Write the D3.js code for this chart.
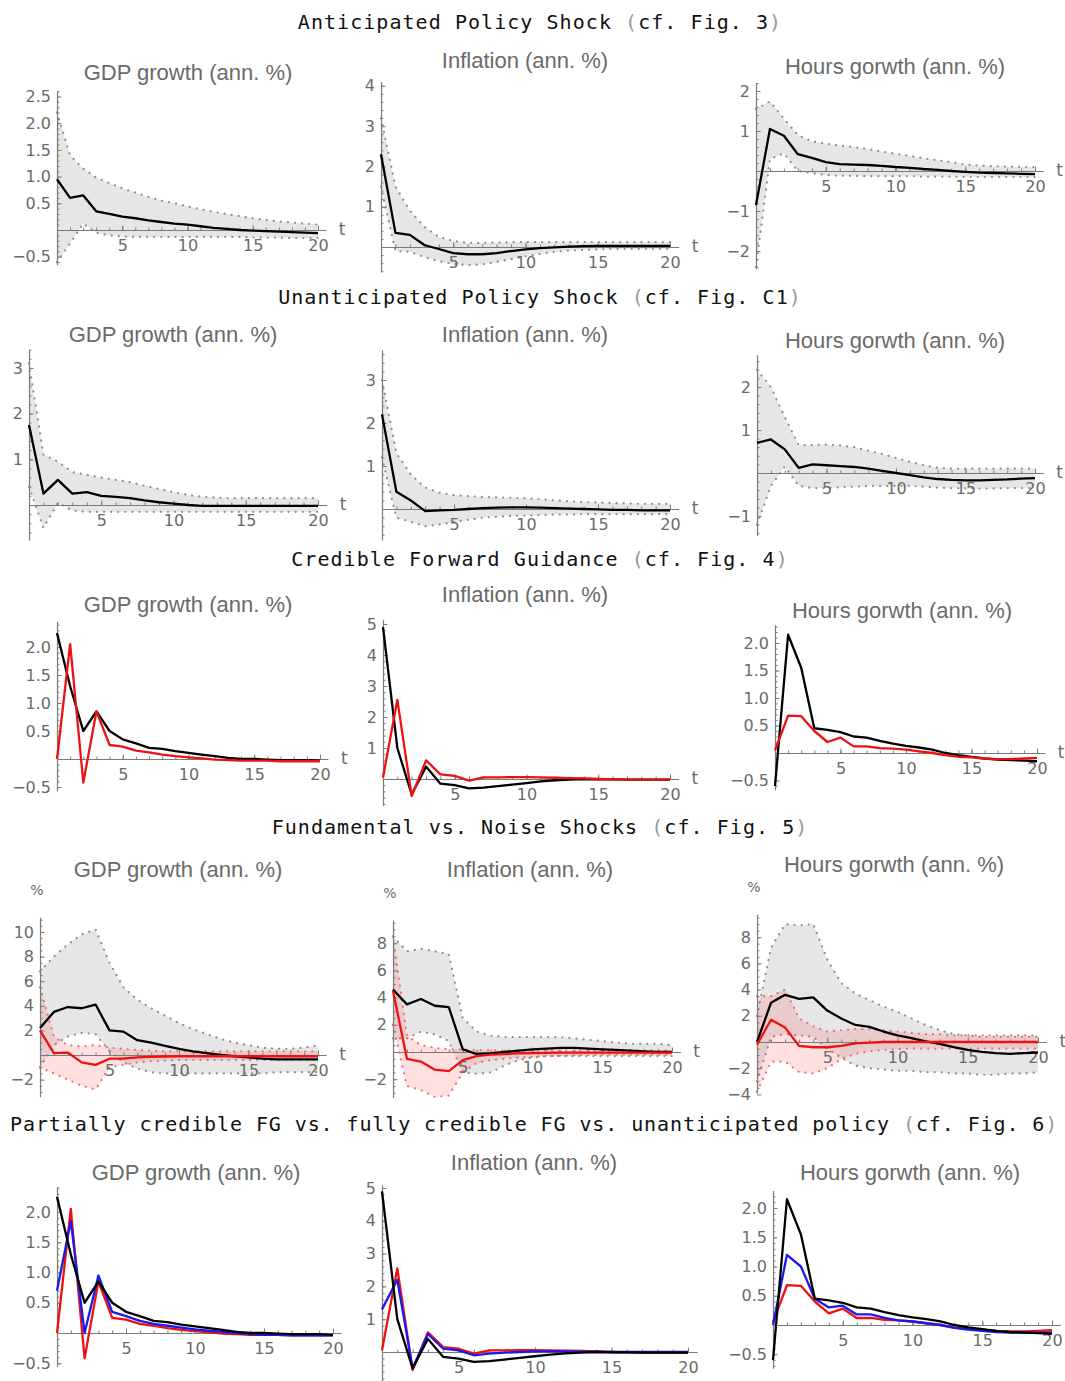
<!DOCTYPE html>
<html>
<head>
<meta charset="utf-8">
<script src="https://cdn.jsdelivr.net/npm/d3@7"></script>
<style>
  body { margin: 0; background: #fff; }
  .rowTitle { font-family: "DejaVu Sans Mono", monospace; font-size: 20px; letter-spacing: 1.05px; fill: #111; }
  .paren { fill: #999; }
  .panelTitle { font-family: "Liberation Sans", Arial, sans-serif; font-size: 22px; fill: #6a6a6a; }
  .tick text, .axisLabel { font-family: "DejaVu Sans", sans-serif; font-size: 16px; fill: #6a6a6a; }
</style>
</head>
<body>
<script>
// ---- horizon (quarters after shock) ----
var horizon = d3.range(21);

// ---- Anticipated policy shock (row 1) ----
var antGdp   = [0.95,0.6,0.65,0.35,0.3,0.25,0.22,0.18,0.15,0.12,0.1,0.07,0.04,0.02,0.0,-0.01,-0.02,-0.03,-0.04,-0.05,-0.06];
var antGdpHi = [2.2,1.4,1.15,0.98,0.88,0.78,0.7,0.62,0.55,0.5,0.44,0.39,0.34,0.3,0.26,0.22,0.19,0.16,0.14,0.12,0.1];
var antGdpLo = [-0.6,-0.25,0.12,-0.05,-0.1,-0.12,-0.13,-0.13,-0.13,-0.13,-0.13,-0.13,-0.13,-0.13,-0.13,-0.14,-0.14,-0.14,-0.15,-0.15,-0.15];
var antInf   = [2.3,0.35,0.3,0.05,-0.05,-0.15,-0.18,-0.18,-0.15,-0.1,-0.06,-0.03,-0.01,0.01,0.02,0.03,0.03,0.03,0.03,0.03,0.03];
var antInfHi = [3.2,1.5,0.9,0.5,0.25,0.15,0.1,0.1,0.11,0.12,0.12,0.12,0.12,0.12,0.12,0.12,0.12,0.12,0.12,0.12,0.12];
var antInfLo = [1.5,-0.1,-0.12,-0.25,-0.35,-0.42,-0.45,-0.43,-0.37,-0.3,-0.23,-0.17,-0.12,-0.09,-0.07,-0.06,-0.05,-0.05,-0.05,-0.05,-0.05];
var antHrs   = [-0.85,1.05,0.88,0.42,0.33,0.22,0.17,0.16,0.15,0.13,0.1,0.08,0.05,0.03,0.0,-0.02,-0.04,-0.05,-0.06,-0.07,-0.08];
var antHrsHi = [1.55,1.74,1.31,0.9,0.74,0.68,0.64,0.6,0.55,0.49,0.43,0.38,0.32,0.27,0.22,0.16,0.14,0.12,0.11,0.1,0.1];
var antHrsLo = [-2.4,0.3,0.44,0.0,-0.05,-0.1,-0.12,-0.12,-0.13,-0.13,-0.13,-0.13,-0.14,-0.14,-0.14,-0.15,-0.15,-0.15,-0.15,-0.15,-0.15];

// ---- Unanticipated policy shock (row 2) ----
var unaGdp   = [1.75,0.25,0.55,0.25,0.28,0.2,0.18,0.15,0.1,0.06,0.03,0.0,-0.02,-0.02,-0.02,-0.02,-0.02,-0.02,-0.02,-0.02,-0.02];
var unaGdpHi = [3.1,1.1,0.95,0.72,0.66,0.6,0.55,0.5,0.42,0.35,0.28,0.22,0.18,0.16,0.15,0.15,0.15,0.15,0.15,0.15,0.15];
var unaGdpLo = [0.4,-0.5,0.05,-0.12,-0.15,-0.15,-0.15,-0.15,-0.15,-0.15,-0.15,-0.15,-0.15,-0.15,-0.15,-0.15,-0.15,-0.15,-0.15,-0.15,-0.15];
var unaInf   = [2.2,0.4,0.2,-0.05,-0.03,-0.02,0.0,0.02,0.03,0.04,0.04,0.03,0.02,0.01,0.0,-0.01,-0.02,-0.02,-0.03,-0.03,-0.03];
var unaInfHi = [3.0,1.3,0.8,0.5,0.38,0.32,0.3,0.28,0.27,0.26,0.25,0.23,0.2,0.18,0.16,0.15,0.14,0.13,0.12,0.12,0.12];
var unaInfLo = [1.2,-0.2,-0.3,-0.4,-0.36,-0.3,-0.25,-0.2,-0.18,-0.16,-0.15,-0.14,-0.13,-0.13,-0.12,-0.12,-0.12,-0.12,-0.12,-0.12,-0.12];
var unaHrs   = [0.7,0.78,0.55,0.12,0.2,0.18,0.16,0.14,0.1,0.05,0.0,-0.05,-0.1,-0.14,-0.16,-0.17,-0.17,-0.16,-0.15,-0.13,-0.12];
var unaHrsHi = [2.4,2.0,1.3,0.65,0.65,0.66,0.64,0.6,0.52,0.44,0.35,0.26,0.18,0.12,0.1,0.1,0.1,0.1,0.1,0.1,0.1];
var unaHrsLo = [-1.2,-0.3,0.15,-0.3,-0.35,-0.35,-0.33,-0.32,-0.3,-0.3,-0.3,-0.3,-0.32,-0.34,-0.35,-0.36,-0.36,-0.36,-0.35,-0.35,-0.35];

// ---- Credible forward guidance (row 3) and comparison (row 5) ----
var fgGdpUnant = [2.25,1.3,0.5,0.85,0.5,0.35,0.28,0.2,0.18,0.14,0.11,0.08,0.05,0.02,0.0,0.0,-0.01,-0.02,-0.02,-0.02,-0.03];
var fgGdpFull  = [0.0,2.05,-0.42,0.85,0.25,0.22,0.15,0.12,0.08,0.05,0.03,0.01,-0.01,-0.02,-0.03,-0.03,-0.03,-0.04,-0.04,-0.04,-0.04];
var fgGdpPart  = [0.7,1.85,0.0,0.95,0.35,0.28,0.2,0.15,0.12,0.09,0.06,0.04,0.02,0.0,-0.02,-0.03,-0.03,-0.04,-0.04,-0.04,-0.04];
var fgInfUnant = [4.9,1.0,-0.5,0.4,-0.15,-0.2,-0.3,-0.28,-0.23,-0.18,-0.13,-0.08,-0.04,-0.02,0.0,-0.01,-0.01,-0.02,-0.02,-0.02,-0.02];
var fgInfFull  = [0.05,2.55,-0.55,0.6,0.15,0.1,-0.05,0.05,0.05,0.06,0.06,0.05,0.04,0.03,0.02,0.0,-0.01,-0.02,-0.02,-0.02,-0.02];
var fgInfPart  = [1.3,2.2,-0.5,0.55,0.1,0.05,-0.1,-0.05,-0.02,0.0,0.02,0.02,0.02,0.01,0.01,0.0,0.0,0.0,0.0,0.0,0.0];
var fgHrsUnant = [-0.6,2.15,1.55,0.45,0.42,0.38,0.3,0.28,0.22,0.17,0.13,0.1,0.06,0.0,-0.04,-0.07,-0.1,-0.12,-0.13,-0.14,-0.15];
var fgHrsFull  = [0.05,0.68,0.67,0.4,0.2,0.28,0.12,0.12,0.09,0.08,0.06,0.03,0.0,-0.04,-0.07,-0.08,-0.1,-0.11,-0.11,-0.1,-0.09];
var fgHrsPart  = [0.0,1.2,1.0,0.45,0.3,0.33,0.18,0.18,0.12,0.08,0.06,0.03,0.0,-0.05,-0.08,-0.1,-0.12,-0.13,-0.13,-0.13,-0.13];

// ---- Fundamental vs. noise shocks (row 4) ----
var funGdp   = [2.2,3.5,3.9,3.8,4.1,2.0,1.9,1.2,1.0,0.75,0.5,0.3,0.15,0.0,-0.1,-0.2,-0.3,-0.35,-0.35,-0.35,-0.35];
var funGdpHi = [6.8,8.0,9.0,9.8,10.2,7.5,5.5,4.5,3.8,3.2,2.6,2.1,1.7,1.3,1.0,0.8,0.6,0.5,0.5,0.6,0.8];
var funGdpLo = [-1.0,0.8,1.5,1.8,1.7,0.3,-0.6,-1.1,-1.4,-1.5,-1.5,-1.5,-1.5,-1.5,-1.5,-1.5,-1.5,-1.4,-1.4,-1.4,-1.4];
var noiGdp   = [2.0,0.15,0.2,-0.6,-0.8,-0.3,-0.3,-0.2,-0.15,-0.12,-0.1,-0.1,-0.1,-0.1,-0.1,-0.1,-0.1,-0.1,-0.1,-0.1,-0.1];
var noiGdpHi = [5.5,1.5,0.8,0.7,0.8,0.6,0.5,0.4,0.35,0.3,0.3,0.3,0.3,0.3,0.3,0.3,0.3,0.3,0.3,0.3,0.3];
var noiGdpLo = [-1.0,-1.5,-2.0,-2.5,-2.8,-1.0,-0.8,-0.6,-0.5,-0.45,-0.4,-0.4,-0.4,-0.4,-0.4,-0.4,-0.4,-0.4,-0.4,-0.4,-0.4];
var funInf   = [4.6,3.5,3.9,3.4,3.3,0.2,-0.15,-0.1,0.0,0.1,0.2,0.25,0.3,0.3,0.25,0.2,0.15,0.1,0.05,0.0,0.0];
var funInfHi = [8.5,7.4,7.6,7.4,7.2,2.5,1.5,1.2,1.1,1.1,1.1,1.1,1.1,1.0,0.9,0.8,0.7,0.6,0.6,0.6,0.5];
var funInfLo = [1.0,1.0,1.5,1.3,0.8,-1.5,-1.6,-1.5,-1.0,-0.6,-0.4,-0.3,-0.3,-0.3,-0.3,-0.3,-0.3,-0.3,-0.3,-0.3,-0.3];
var noiInf   = [4.5,-0.5,-0.7,-1.3,-1.4,-0.6,-0.3,-0.2,-0.15,-0.1,-0.08,-0.06,-0.05,-0.05,-0.05,-0.05,-0.05,-0.05,-0.05,-0.05,-0.05];
var noiInfHi = [8.5,1.2,0.5,0.3,0.2,0.2,0.15,0.12,0.1,0.1,0.1,0.1,0.1,0.1,0.1,0.1,0.1,0.1,0.1,0.1,0.1];
var noiInfLo = [2.0,-2.5,-2.8,-3.3,-3.2,-1.5,-0.8,-0.6,-0.5,-0.4,-0.35,-0.3,-0.28,-0.25,-0.22,-0.2,-0.2,-0.2,-0.2,-0.2,-0.2];
var funHrs   = [0.0,3.0,3.6,3.3,3.4,2.4,1.8,1.3,1.15,0.8,0.5,0.3,0.05,-0.15,-0.4,-0.6,-0.75,-0.85,-0.9,-0.85,-0.8];
var funHrsHi = [2.0,7.2,9.0,8.9,9.0,6.3,4.5,3.7,3.2,2.7,2.3,1.8,1.3,0.9,0.6,0.5,0.4,0.4,0.4,0.4,0.4];
var funHrsLo = [-3.0,0.4,0.6,0.5,0.4,-0.5,-1.2,-1.8,-2.0,-2.1,-2.2,-2.2,-2.3,-2.3,-2.4,-2.4,-2.5,-2.5,-2.4,-2.4,-2.3];
var noiHrs   = [-0.2,1.7,1.1,-0.3,-0.4,-0.4,-0.3,-0.1,-0.05,0.0,0.0,0.0,0.0,0.0,0.0,0.0,0.0,0.0,0.0,0.0,0.0];
var noiHrsHi = [3.5,3.5,4.0,1.8,1.2,0.8,0.9,1.0,1.0,0.9,0.8,0.7,0.6,0.6,0.5,0.5,0.5,0.5,0.5,0.5,0.5];
var noiHrsLo = [-3.8,-1.5,-1.5,-2.3,-2.4,-2.0,-1.3,-0.9,-0.7,-0.6,-0.55,-0.5,-0.5,-0.5,-0.5,-0.5,-0.5,-0.5,-0.5,-0.5,-0.5];

// ---- titles ----
var rowTitles = [
    ['Anticipated Policy Shock ', 'cf. Fig. 3'],
    ['Unanticipated Policy Shock ', 'cf. Fig. C1'],
    ['Credible Forward Guidance ', 'cf. Fig. 4'],
    ['Fundamental vs. Noise Shocks ', 'cf. Fig. 5'],
    ['Partially credible FG vs. fully credible FG vs. unanticipated policy ', 'cf. Fig. 6']
];
var gdpTitle = 'GDP growth (ann. %)';
var infTitle = 'Inflation (ann. %)';
var hrsTitle = 'Hours gorwth (ann. %)';

var BLACK = '#000', RED = '#ee1111', BLUE = '#1a1aee';
var GRAY_BAND = {fill: '#e6e6e6', dot: '#8f8f8f'};
var RED_BAND = {fill: 'rgba(255,60,60,0.16)', dot: '#f07070'};

// The last title is wider than the others; tighter spacing keeps it on the page.
var rowTitlePos = [
    {x: 540, y: 29, anchor: 'middle', spacing: 1.05},
    {x: 540, y: 304, anchor: 'middle', spacing: 1.05},
    {x: 540, y: 566, anchor: 'middle', spacing: 1.05},
    {x: 540, y: 834, anchor: 'middle', spacing: 1.05},
    {x: 10, y: 1131, anchor: 'start', spacing: 0.9}
];

// Panel layout: x0/x20 pixel of t=0 and t=20, zero = pixel of y=0, unit = px per unit.
var panels = [
    {title: gdpTitle, tx: 188, ty: 80, x0: 57, x20: 318, zero: 230, unit: 53.4, ymin: -0.65, ymax: 2.6,
     yt: [-0.5, 0.5, 1, 1.5, 2, 2.5], minor: 0.1, dec: 1, tLabel: true,
     bands: [{hi: antGdpHi, lo: antGdpLo, s: GRAY_BAND}], lines: [{v: antGdp, c: BLACK}]},
    {title: infTitle, tx: 525, ty: 68, x0: 381, x20: 670, zero: 247, unit: 40.3, ymin: -0.62, ymax: 4.1,
     yt: [1, 2, 3, 4], minor: 0.2, dec: 0, tLabel: true,
     bands: [{hi: antInfHi, lo: antInfLo, s: GRAY_BAND}], lines: [{v: antInf, c: BLACK}]},
    {title: hrsTitle, tx: 895, ty: 74, x0: 756, x20: 1035, zero: 171, unit: 40, ymin: -2.45, ymax: 2.2,
     yt: [-2, -1, 1, 2], minor: 0.2, dec: 0, tLabel: true,
     bands: [{hi: antHrsHi, lo: antHrsLo, s: GRAY_BAND}], lines: [{v: antHrs, c: BLACK}]},

    {title: gdpTitle, tx: 173, ty: 342, x0: 29, x20: 318, zero: 505, unit: 45.7, ymin: -0.77, ymax: 3.4,
     yt: [1, 2, 3], minor: 0.2, dec: 0, tLabel: true,
     bands: [{hi: unaGdpHi, lo: unaGdpLo, s: GRAY_BAND}], lines: [{v: unaGdp, c: BLACK}]},
    {title: infTitle, tx: 525, ty: 342, x0: 382, x20: 670, zero: 509, unit: 43, ymin: -0.72, ymax: 3.7,
     yt: [1, 2, 3], minor: 0.2, dec: 0, tLabel: true,
     bands: [{hi: unaInfHi, lo: unaInfLo, s: GRAY_BAND}], lines: [{v: unaInf, c: BLACK}]},
    {title: hrsTitle, tx: 895, ty: 348, x0: 757, x20: 1035, zero: 473, unit: 43, ymin: -1.45, ymax: 2.75,
     yt: [-1, 1, 2], minor: 0.2, dec: 0, tLabel: true,
     bands: [{hi: unaHrsHi, lo: unaHrsLo, s: GRAY_BAND}], lines: [{v: unaHrs, c: BLACK}]},

    {title: gdpTitle, tx: 188, ty: 612, x0: 57, x20: 320, zero: 759, unit: 56, ymin: -0.57, ymax: 2.46,
     yt: [-0.5, 0.5, 1, 1.5, 2], minor: 0.1, dec: 1, tLabel: true,
     bands: [], lines: [{v: fgGdpUnant, c: BLACK}, {v: fgGdpFull, c: RED}]},
    {title: infTitle, tx: 525, ty: 602, x0: 383, x20: 670, zero: 779, unit: 31, ymin: -0.85, ymax: 5.15,
     yt: [1, 2, 3, 4, 5], minor: 0.2, dec: 0, tLabel: true,
     bands: [], lines: [{v: fgInfUnant, c: BLACK}, {v: fgInfFull, c: RED}]},
    {title: hrsTitle, tx: 902, ty: 618, x0: 775, x20: 1037, zero: 753, unit: 55, ymin: -0.67, ymax: 2.33,
     yt: [-0.5, 0.5, 1, 1.5, 2], minor: 0.1, dec: 1, tLabel: true,
     bands: [], lines: [{v: fgHrsUnant, c: BLACK}, {v: fgHrsFull, c: RED}]},

    {title: gdpTitle, tx: 178, ty: 877, x0: 40, x20: 318, zero: 1055, unit: 12.3, ymin: -3.4, ymax: 11.2,
     yt: [-2, 2, 4, 6, 8, 10], minor: 0.5, dec: 0, tLabel: true, pct: true,
     bands: [{hi: funGdpHi, lo: funGdpLo, s: GRAY_BAND}, {hi: noiGdpHi, lo: noiGdpLo, s: RED_BAND}],
     lines: [{v: funGdp, c: BLACK}, {v: noiGdp, c: RED}]},
    {title: infTitle, tx: 530, ty: 877, x0: 393, x20: 672, zero: 1052, unit: 13.6, ymin: -3.35, ymax: 9.7,
     yt: [-2, 2, 4, 6, 8], minor: 0.5, dec: 0, tLabel: true, pct: true,
     bands: [{hi: funInfHi, lo: funInfLo, s: GRAY_BAND}, {hi: noiInfHi, lo: noiInfLo, s: RED_BAND}],
     lines: [{v: funInf, c: BLACK}, {v: noiInf, c: RED}]},
    {title: hrsTitle, tx: 894, ty: 872, x0: 757, x20: 1038, zero: 1042, unit: 13.1, ymin: -3.9, ymax: 9.75,
     yt: [-4, -2, 2, 4, 6, 8], minor: 0.5, dec: 0, tLabel: true, pct: true,
     bands: [{hi: funHrsHi, lo: funHrsLo, s: GRAY_BAND}, {hi: noiHrsHi, lo: noiHrsLo, s: RED_BAND}],
     lines: [{v: funHrs, c: BLACK}, {v: noiHrs, c: RED}]},

    {title: gdpTitle, tx: 196, ty: 1180, x0: 57, x20: 333, zero: 1333, unit: 60.5, ymin: -0.55, ymax: 2.42,
     yt: [-0.5, 0.5, 1, 1.5, 2], minor: 0.1, dec: 1, tLabel: false,
     bands: [], lines: [{v: fgGdpFull, c: RED}, {v: fgGdpPart, c: BLUE}, {v: fgGdpUnant, c: BLACK}]},
    {title: infTitle, tx: 534, ty: 1170, x0: 382, x20: 688, zero: 1352, unit: 32.8, ymin: -0.95, ymax: 5.1,
     yt: [1, 2, 3, 4, 5], minor: 0.2, dec: 0, tLabel: false,
     bands: [], lines: [{v: fgInfFull, c: RED}, {v: fgInfPart, c: BLUE}, {v: fgInfUnant, c: BLACK}]},
    {title: hrsTitle, tx: 910, ty: 1180, x0: 773, x20: 1052, zero: 1325, unit: 58.5, ymin: -0.74, ymax: 2.3,
     yt: [-0.5, 0.5, 1, 1.5, 2], minor: 0.1, dec: 1, tLabel: false,
     bands: [], lines: [{v: fgHrsFull, c: RED}, {v: fgHrsPart, c: BLUE}, {v: fgHrsUnant, c: BLACK}]}
];

var svg = d3.select('body').append('svg')
    .attr('width', 1065)
    .attr('height', 1381);

// Row titles, with the parentheses in light grey as in Mathematica output.
rowTitles.forEach(function(rt, i) {
    var pos = rowTitlePos[i];
    var text = svg.append('text')
        .attr('class', 'rowTitle')
        .attr('x', pos.x)
        .attr('y', pos.y)
        .attr('text-anchor', pos.anchor)
        .style('letter-spacing', pos.spacing + 'px');
    text.append('tspan').text(rt[0]);
    text.append('tspan').attr('class', 'paren').text('(');
    text.append('tspan').text(rt[1]);
    text.append('tspan').attr('class', 'paren').text(')');
});

var minus = function(s) { return s.replace('-', '\u2212'); };

function drawPanel(p) {
    var xEnd = 20.6;
    var x = d3.scaleLinear()
        .domain([0, xEnd])
        .range([p.x0, p.x0 + xEnd * (p.x20 - p.x0) / 20]);
    var y = d3.scaleLinear()
        .domain([p.ymin, p.ymax])
        .range([p.zero - p.ymin * p.unit, p.zero - p.ymax * p.unit]);
    var g = svg.append('g');

    var line = d3.line()
        .x(function(d, i) { return x(horizon[i]); })
        .y(function(d) { return y(d); });

    // Confidence bands: filled region with dotted edges.
    p.bands.forEach(function(b) {
        var area = d3.area()
            .x(function(d, i) { return x(horizon[i]); })
            .y0(function(d, i) { return y(b.lo[i]); })
            .y1(function(d) { return y(d); });
        g.append('path')
            .datum(b.hi)
            .attr('d', area)
            .attr('fill', b.s.fill);
        [b.hi, b.lo].forEach(function(edge) {
            g.append('path')
                .datum(edge)
                .attr('d', line)
                .attr('fill', 'none')
                .attr('stroke', b.s.dot)
                .attr('stroke-width', 2.2)
                .attr('stroke-linecap', 'round')
                .attr('stroke-dasharray', '0.1 7');
        });
    });

    // x axis along y = 0, ticks pointing up, labels below.
    var xMinor = g.append('g')
        .attr('transform', 'translate(0,' + y(0) + ')')
        .call(d3.axisBottom(x).tickValues(d3.range(1, 21)).tickSizeInner(-2.5).tickSizeOuter(0).tickFormat(''));
    var xAxis = g.append('g')
        .attr('transform', 'translate(0,' + y(0) + ')')
        .call(d3.axisBottom(x).tickValues([5, 10, 15, 20]).tickSizeInner(-4.5).tickSizeOuter(0).tickPadding(10));

    // y axis along t = 0, ticks pointing right, labels left.
    var minorVals = d3.range(Math.ceil(p.ymin / p.minor), Math.floor(p.ymax / p.minor) + 1)
        .map(function(k) { return +(k * p.minor).toFixed(3); });
    var yMinor = g.append('g')
        .attr('transform', 'translate(' + x(0) + ',0)')
        .call(d3.axisLeft(y).tickValues(minorVals).tickSizeInner(-2.5).tickSizeOuter(0).tickFormat(''));
    var yAxis = g.append('g')
        .attr('transform', 'translate(' + x(0) + ',0)')
        .call(d3.axisLeft(y).tickValues(p.yt).tickSizeInner(-4.5).tickSizeOuter(0).tickPadding(6)
            .tickFormat(function(d) { return minus(d3.format('.' + p.dec + 'f')(d)); }));

    [xMinor, xAxis, yMinor, yAxis].forEach(function(a) {
        a.selectAll('.domain').attr('stroke', '#7a7a7a').attr('stroke-width', 1.2);
        a.selectAll('.tick line').attr('stroke', '#7a7a7a').attr('stroke-width', 1);
        a.selectAll('.tick text').attr('fill', '#6a6a6a').style('font-size', '16px').style('font-family', 'DejaVu Sans');
    });
    xMinor.select('.domain').remove();
    yMinor.select('.domain').remove();

    // Response lines.
    p.lines.forEach(function(l) {
        g.append('path')
            .datum(l.v)
            .attr('d', line)
            .attr('fill', 'none')
            .attr('stroke', l.c)
            .attr('stroke-width', 2.3)
            .attr('stroke-linejoin', 'round');
    });

    // Panel title.
    g.append('text')
        .attr('class', 'panelTitle')
        .attr('x', p.tx)
        .attr('y', p.ty)
        .attr('text-anchor', 'middle')
        .text(p.title);

    if (p.tLabel) {
        g.append('text')
            .attr('class', 'axisLabel')
            .attr('x', x(xEnd) + 13)
            .attr('y', y(0) + 5)
            .style('font-size', '17px')
            .text('t');
    }
    if (p.pct) {
        g.append('text')
            .attr('class', 'axisLabel')
            .attr('x', x(0) - 3)
            .attr('y', y(p.ymax) - 22)
            .attr('text-anchor', 'middle')
            .style('font-size', '14px')
            .text('%');
    }
}

panels.forEach(drawPanel);
</script>
</body>
</html>
